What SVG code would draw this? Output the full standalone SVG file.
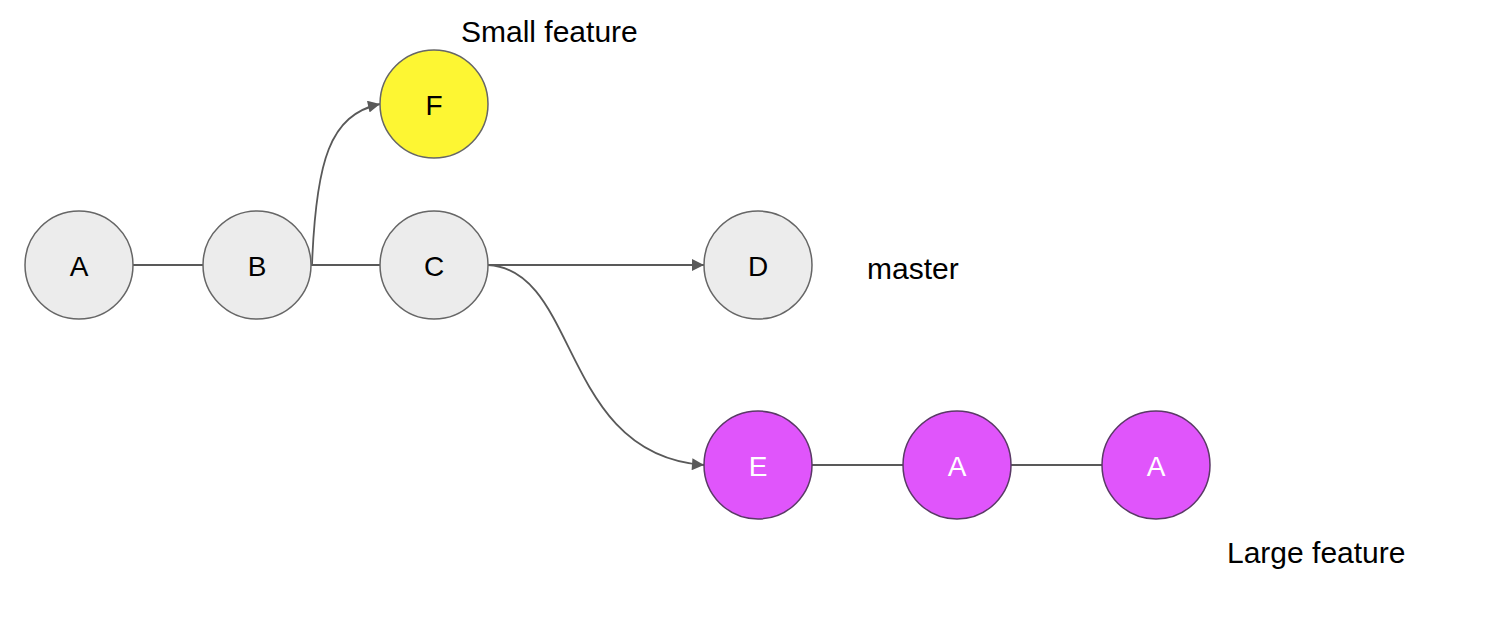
<svg xmlns="http://www.w3.org/2000/svg" width="1493" height="627" viewBox="0 0 1493 627">
<style>
.lbl{font-family:"Liberation Sans",Arial,sans-serif;font-size:30px;fill:#000}
.nt{font-family:"Liberation Sans",Arial,sans-serif;font-size:28px;text-anchor:middle;dominant-baseline:central}
.g{fill:#ececec;stroke:#666;stroke-width:1.5}
.y{fill:#fdf633;stroke:#666;stroke-width:1.5}
.m{fill:#e055fb;stroke:#5a3a66;stroke-width:1.5}
.c{fill:none;stroke:#595959;stroke-width:1.8}
</style>
<defs>
<marker id="ah2" viewBox="0 0 10 10" refX="10" refY="5" markerWidth="14" markerHeight="12" orient="auto" markerUnits="userSpaceOnUse">
<path d="M0,0 L10,5 L0,10 z" fill="#595959"/>
</marker>
</defs>
<rect width="1493" height="627" fill="#fff"/>
<g id="connectors">
<line class="c" x1="133" y1="265" x2="203" y2="265"/>
<line class="c" x1="311" y1="265" x2="380" y2="265"/>
<path class="c" d="M312,265 C316,160 330,115 380,104" marker-end="url(#ah2)"/>
<line class="c" x1="488" y1="265" x2="704" y2="265" marker-end="url(#ah2)"/>
<path class="c" d="M488,265 C580,270 560,455 704,465" marker-end="url(#ah2)"/>
<line class="c" x1="812" y1="465" x2="903" y2="465"/>
<line class="c" x1="1011" y1="465" x2="1102" y2="465"/>
</g>
<g id="nA"><circle class="g" cx="79" cy="265" r="54"/><text class="nt" x="79" y="266">A</text></g>
<g id="nB"><circle class="g" cx="257" cy="265" r="54"/><text class="nt" x="257" y="266">B</text></g>
<g id="nC"><circle class="g" cx="434" cy="265" r="54"/><text class="nt" x="434" y="266">C</text></g>
<g id="nD"><circle class="g" cx="758" cy="265" r="54"/><text class="nt" x="758" y="266">D</text></g>
<g id="nF"><circle class="y" cx="434" cy="104" r="54"/><text class="nt" x="434" y="105">F</text></g>
<g id="nE"><circle class="m" cx="758" cy="465" r="54"/><text class="nt" x="758" y="466" fill="#fff">E</text></g>
<g id="nA2"><circle class="m" cx="957" cy="465" r="54"/><text class="nt" x="957" y="466" fill="#fff">A</text></g>
<g id="nA3"><circle class="m" cx="1156" cy="465" r="54"/><text class="nt" x="1156" y="466" fill="#fff">A</text></g>
<g id="labels">
<text class="lbl" x="461" y="42">Small feature</text>
<text class="lbl" x="867" y="279">master</text>
<text class="lbl" x="1227" y="563">Large feature</text>
</g>
</svg>
